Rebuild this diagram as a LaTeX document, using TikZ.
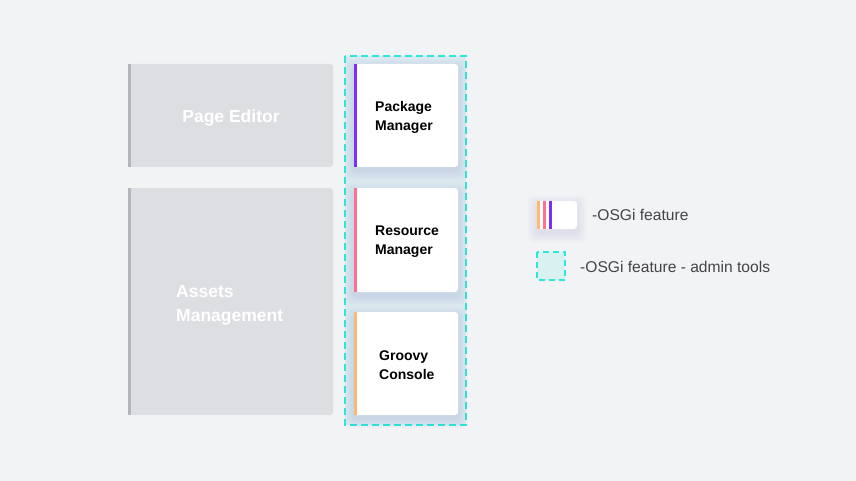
\documentclass[tikz,border=0pt]{standalone}
\usepackage{fontspec}
\setmainfont{Liberation Sans}
\usetikzlibrary{positioning}
\definecolor{bg}{HTML}{F2F3F5}
\definecolor{greybox}{HTML}{DDDEE1}
\definecolor{greybar}{HTML}{B4B4BC}
\definecolor{cyanline}{HTML}{2DE8D8}
\definecolor{zonefill}{HTML}{DCEAF0}
\definecolor{purplebar}{HTML}{7B2FF7}
\definecolor{pinkbar}{HTML}{FF6F8E}
\definecolor{orangebar}{HTML}{FFB870}
\definecolor{legtext}{HTML}{444448}
\definecolor{legfill}{HTML}{D8F1F1}
\definecolor{shadowcol}{HTML}{7080A8}
\tikzset{
  x=1pt,y=-1pt,
  greyblock/.style={fill=greybox,rounded corners=3pt,draw=none},
  card/.style={fill=white,rounded corners=3pt,draw=none},
  glow/.style={fill=shadowcol,fill opacity=0.012,rounded corners=6pt,draw=none},
  zone/.style={draw=cyanline,line width=1.5pt,dash pattern=on 7pt off 4pt,fill=zonefill},
  bigtxt/.style={text=white,font=\fontsize{17.5}{24}\selectfont\bfseries,align=left,inner sep=0pt},
  cardtxt/.style={text=black,font=\fontsize{14}{19}\selectfont\bfseries,align=left,inner sep=0pt,anchor=west},
  legtxt/.style={text=legtext,font=\fontsize{15.6}{17}\selectfont,inner sep=0pt,anchor=west},
}
\newcommand\softglow[4]{\foreach \k in {1,...,10}{\fill[glow] (#1-\k,#2-\k+4) rectangle (#3+\k,#4+\k+4);}}
\begin{document}
\begin{tikzpicture}
\useasboundingbox[fill=bg] (0,0) rectangle (856,481);
% dashed zone
\draw[zone] (345,56) rectangle (466,425);
% grey blocks
\fill[greyblock] (128,64) rectangle (333,167);
\fill[greybar] (128,64) rectangle (131,167);
\node[bigtxt] (pe) at (231,118) {Page Editor};
\fill[greyblock] (128,188) rectangle (333,415);
\fill[greybar] (128,188) rectangle (131,415);
\node[bigtxt,anchor=west] (am) at (176,305) {Assets\\Management};
% cards
\softglow{354}{64}{458}{167}
\softglow{354}{188}{458}{292}
\softglow{354}{312}{458}{415}
\fill[card] (354,64) rectangle (458,167);
\fill[purplebar] (354,64) rectangle (357,167);
\node[cardtxt] (pm) at (375,117.5) {Package\\Manager};
\fill[card] (354,188) rectangle (458,292);
\fill[pinkbar] (354,188) rectangle (357,292);
\node[cardtxt] (rm) at (375,241.5) {Resource\\Manager};
\fill[card] (354,312) rectangle (458,415);
\fill[orangebar] (354,312) rectangle (357,415);
\node[cardtxt] (gc) at (379,365.5) {Groovy\\Console};
% legend
\softglow{537}{201}{577}{229}
\fill[card] (537,201) rectangle (577,229);
\fill[orangebar] (537,201) rectangle (540,229);
\fill[pinkbar] (543,201) rectangle (546,229);
\fill[purplebar] (549,201) rectangle (552,229);
\node[legtxt] (l1) at (592,215) {-OSGi feature};
\draw[draw=cyanline,line width=1.5pt,dash pattern=on 6pt off 4pt,fill=legfill] (537,252) rectangle (565,280);
\node[legtxt] (l2) at (580,267) {-OSGi feature - admin tools};
\end{tikzpicture}
\end{document}
